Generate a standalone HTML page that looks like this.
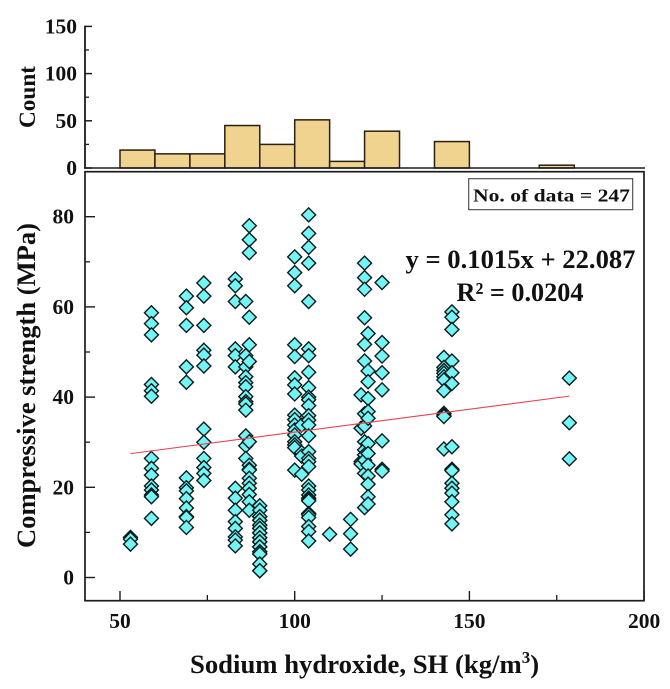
<!DOCTYPE html>
<html lang="en">
<head>
<meta charset="utf-8">
<title>Compressive strength vs sodium hydroxide</title>
<style>
html,body{margin:0;padding:0;background:#fff;width:670px;height:689px;overflow:hidden}
svg{display:block}
text{font-family:"Liberation Serif",serif;font-weight:bold;fill:#111}
</style>
</head>
<body>
<svg id="chart" width="670" height="689" viewBox="0 0 670 689">
<g id="hist"></g>
<g id="axes"></g>
<g id="points"></g>
<line id="fit" stroke="#e8434f" stroke-width="1.1"></line>
<rect x="468.7" y="178.7" width="164" height="31" fill="#fff" stroke="#444" stroke-width="1.1"></rect>
<text x="473" y="201.5" font-size="18" textLength="157" lengthAdjust="spacingAndGlyphs">No. of data = 247</text>
<text x="405.5" y="268" font-size="26.5" textLength="230" lengthAdjust="spacingAndGlyphs">y = 0.1015x + 22.087</text>
<text x="456.5" y="301" font-size="26.5" textLength="127" lengthAdjust="spacingAndGlyphs">R² = 0.0204</text>
<text transform="translate(35,128) rotate(-90)" font-size="23" textLength="62" lengthAdjust="spacingAndGlyphs">Count</text>
<text transform="translate(35,548) rotate(-90)" font-size="26" textLength="325" lengthAdjust="spacingAndGlyphs">Compressive strength (MPa)</text>
<text x="190" y="673" font-size="26.7">Sodium hydroxide, SH (kg/m<tspan font-size="17" dy="-10">3</tspan><tspan dy="10">)</tspan></text>
</svg>
<script>
// Histogram data
const binStarts = [50, 60, 70, 80, 90, 100, 110, 120, 140, 170];
const binCounts = [19, 15, 15, 45, 25, 51, 7, 39, 28, 3];
const binWidth = 10;

// Tick labels
const xTickLabels = [50, 100, 150, 200];
const xMinorTicks = [75, 125, 175];
const yTickLabels = [0, 20, 40, 60, 80];
const yMinorTicks = [10, 30, 50, 70];
const countTickLabels = [0, 50, 100, 150];
const countMinorTicks = [25, 75, 125];

// Regression line
const fitSlope = 0.1015;
const fitIntercept = 22.087;
const fitRange = [53, 178.6];

// Scatter data: SH column values and the strengths read at each
const columnSH = [53, 59, 69, 74, 83, 86, 87, 90, 100, 102, 104, 110, 116, 119, 120, 121, 125, 142.7, 145, 178.6];
const columnStrength = [
 [8.9, 8.5, 7.4],
 [58.7, 56.3, 53.8, 42.8, 41.4, 40.2, 26.4, 24.2, 22.7, 20.3, 19.4, 18.3, 17.9, 13.1],
 [62.4, 59.8, 55.9, 46.7, 43.3, 22.1, 19.9, 19.2, 17.5, 15.4, 13.5, 13.3, 11.1],
 [65.3, 62.4, 55.9, 50.4, 49.3, 46.9, 32.9, 30, 26.4, 24.4, 23.1, 21.5],
 [66.2, 64.7, 61.2, 50.7, 49.2, 46.7, 19.8, 17.6, 14.9, 12.4, 10.9, 9, 8.3, 7],
 [61.2, 49.2, 46.7, 44.5, 43.2, 42.3, 40.1, 39, 38.5, 37.1, 31.4, 29.2, 26.4],
 [78, 74.9, 72, 57.7, 51.6, 47.9, 30.1, 24.9, 24, 23.8, 22, 20.9, 19.8, 18.4, 16.8, 14.9],
 [15.9, 14.9, 13.5, 13.5, 12.7, 12.7, 11.6, 11.6, 10.9, 10.9, 9.9, 9.9, 8.8, 8.8, 7.9, 7.9, 6.8, 6.8, 5.7, 5.7, 5.2, 5.2, 3, 1.5, 1.5],
 [71.1, 67.6, 64.7, 51.6, 49, 44.3, 42.7, 40.7, 36, 35, 33.8, 32.7, 31.6, 30.1, 29.4, 28.8, 23.8],
 [33.8, 27.7, 26.9, 22.9],
 [80.4, 76.3, 73.2, 69.7, 61.2, 50.7, 49.2, 45.5, 42.1, 40, 39.4, 38.1, 35.9, 34.9, 33.8, 31.4, 27.9, 26.4, 25.7, 24.6, 20.3, 19.4, 18.3, 17.6, 17.2, 17, 14.2, 13.9, 13.3, 11.3, 10.2, 8.1],
 [9.6],
 [12.9, 9.7, 6.3],
 [40.5, 33.1, 25.7, 25.2],
 [69.7, 66.5, 63.9, 57.6, 51.7, 48, 36.3, 33.6, 30.1, 28.3, 27.2, 26, 23.1, 15.5],
 [54.1, 45.8, 43.4, 39.7, 36.8, 35.3, 29.7, 27.5, 24.9, 22.5, 20.7, 17.9, 16.3],
 [65.4, 52.1, 49.1, 45.4, 41.6, 30.3, 24, 23.6],
 [48.8, 46.6, 45.9, 45.3, 44.5, 43.8, 41.4, 36.4, 36, 35.7, 28.5],
 [58.9, 57.7, 55, 48, 45.4, 43, 29, 24, 23.7, 20.9, 19.8, 18.7, 16.8, 13.9, 11.9],
 [44.2, 34.3, 26.3]
];

const NS = 'http://www.w3.org/2000/svg';
const INK = '#1c1c1c';
const xPos = function (v) { return 120 + (v - 50) * 3.494; };
const yPos = function (v) { return 577.5 - v * 4.51; };
const countPos = function (v) { return 168 - v * 0.944; };

function make(tag, parent, attrs) {
  const el = document.createElementNS(NS, tag);
  Object.keys(attrs).forEach(function (k) { el.setAttribute(k, attrs[k]); });
  parent.appendChild(el);
  return el;
}

const histGroup = document.getElementById('hist');
const axesGroup = document.getElementById('axes');
const pointsGroup = document.getElementById('points');

// Histogram bars
binStarts.forEach(function (start, i) {
  const top = countPos(binCounts[i]);
  const bar = make('rect', histGroup, {
    x: xPos(start), y: top, width: xPos(start + binWidth) - xPos(start), height: 168 - top,
    fill: '#f0d38f', stroke: '#2a2010', 'stroke-width': 1.5
  });
  
  
});

function axisLine(x1, y1, x2, y2, width, name) {
  const l = make('line', axesGroup, { x1: x1, y1: y1, x2: x2, y2: y2, stroke: INK, 'stroke-width': width });
  
  
}

function axisLabel(x, y, anchor, value, name) {
  const t = make('text', axesGroup, { x: x, y: y, 'text-anchor': anchor, 'font-size': 21.5 });
  t.textContent = value;
  
  
}

// Count axis
axisLine(85, 25.6, 85, 168.8, 1.8, 'count-axis-line');
axisLine(84, 168, 645, 168, 1.4, 'count-axis-baseline');
countTickLabels.forEach(function (v) {
  axisLine(85, countPos(v), 92, countPos(v), 1.5, 'count-tick');
  axisLabel(77, countPos(v) + 7, 'end', v, 'count-tick-label');
});
countMinorTicks.forEach(function (v) {
  axisLine(85, countPos(v), 89, countPos(v), 1.3, 'count-minor-tick');
});

// Main plot frame
const frame = make('rect', axesGroup, { x: 85, y: 171.7, width: 559, height: 429, fill: 'none', stroke: INK, 'stroke-width': 1.7 });



// X axis ticks
xTickLabels.forEach(function (v) {
  axisLine(xPos(v), 600.7, xPos(v), 591, 1.4, 'x-tick');
  axisLabel(xPos(v), 628, 'middle', v, 'x-tick-label');
});
xMinorTicks.forEach(function (v) {
  axisLine(xPos(v), 600.7, xPos(v), 595, 1.3, 'x-minor-tick');
});

// Y axis ticks
yTickLabels.forEach(function (v) {
  axisLine(85, yPos(v), 95, yPos(v), 1.4, 'y-tick');
  axisLabel(74, yPos(v) + 7, 'end', v, 'y-tick-label');
});
yMinorTicks.forEach(function (v) {
  axisLine(85, yPos(v), 90, yPos(v), 1.3, 'y-minor-tick');
});

// Scatter points
columnSH.forEach(function (sh, c) {
  columnStrength[c].forEach(function (strength) {
    const cx = xPos(sh);
    const cy = yPos(strength);
    const r = 7;
    const p = make('polygon', pointsGroup, {
      points: cx + ',' + (cy - r) + ' ' + (cx + r) + ',' + cy + ' ' + cx + ',' + (cy + r) + ' ' + (cx - r) + ',' + cy,
      fill: '#74f5f5', stroke: '#0c1c1c', 'stroke-width': 1.4
    });
    
    
  });
});

// Regression line
const fit = document.getElementById('fit');
fit.setAttribute('x1', xPos(fitRange[0]));
fit.setAttribute('y1', yPos(fitSlope * fitRange[0] + fitIntercept));
fit.setAttribute('x2', xPos(fitRange[1]));
fit.setAttribute('y2', yPos(fitSlope * fitRange[1] + fitIntercept));
</script>
</body>
</html>
